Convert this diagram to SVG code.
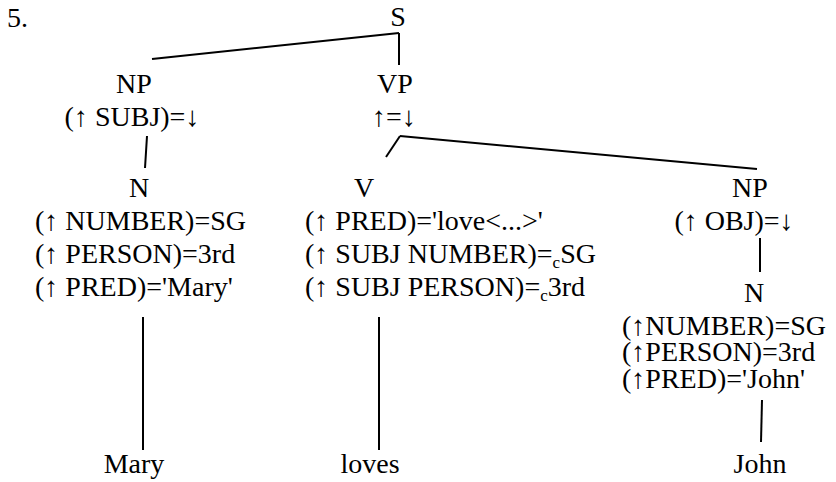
<svg xmlns="http://www.w3.org/2000/svg" width="836" height="482" viewBox="0 0 836 482">
<style>
text{font-size:28px;fill:#000}
.m{text-anchor:middle}
.sub{font-size:17px}
line{stroke:#000;stroke-width:2;fill:none}
</style>
<rect width="836" height="482" fill="#fff"/>
<g font-family="Liberation Serif, Tinos, Times New Roman, Times, DejaVu Serif, serif">
<text x="7" y="27">5.</text>
<g id="connectors">
<line x1="152" y1="59" x2="399" y2="33"/>
<line x1="399" y1="33" x2="399" y2="65"/>
<line x1="147" y1="136" x2="145" y2="168"/>
<line x1="143" y1="317" x2="143" y2="450"/>
<line x1="400" y1="136" x2="386" y2="157"/>
<line x1="400" y1="136" x2="757" y2="169"/>
<line x1="379" y1="317" x2="379" y2="450"/>
<line x1="760" y1="238" x2="760" y2="272"/>
<line x1="762" y1="400" x2="761" y2="442"/>
</g>
<g id="S"><text class="m" x="398" y="26">S</text></g>
<g id="NP1"><text class="m" x="134" y="93">NP</text><text class="m" x="132" y="126">(↑ SUBJ)=↓</text></g>
<g id="VP"><text class="m" x="395" y="93">VP</text><text class="m" x="394" y="126">↑=↓</text></g>
<g id="N1"><text class="m" x="139" y="197">N</text>
<text x="35" y="230">(↑ NUMBER)=SG</text>
<text x="35" y="263">(↑ PERSON)=3rd</text>
<text x="35" y="296">(↑ PRED)='Mary'</text></g>
<g id="V"><text class="m" x="364" y="197">V</text>
<text x="305" y="230">(↑ PRED)='love&lt;...&gt;'</text>
<text x="305" y="263">(↑ SUBJ NUMBER)=<tspan class="sub" dy="5">c</tspan><tspan dy="-5">SG</tspan></text>
<text x="305" y="296">(↑ SUBJ PERSON)=<tspan class="sub" dy="5">c</tspan><tspan dy="-5">3rd</tspan></text></g>
<g id="NP2"><text class="m" x="750" y="197">NP</text><text class="m" x="734" y="230">(↑ OBJ)=↓</text></g>
<g id="N2"><text class="m" x="754" y="302">N</text>
<text x="622" y="335">(↑NUMBER)=SG</text>
<text x="622" y="361">(↑PERSON)=3rd</text>
<text x="622" y="388">(↑PRED)='John'</text></g>
<g id="Mary"><text class="m" x="134" y="473">Mary</text></g>
<g id="loves"><text class="m" x="370" y="473">loves</text></g>
<g id="John"><text class="m" x="760" y="473">John</text></g>
</g>
</svg>
